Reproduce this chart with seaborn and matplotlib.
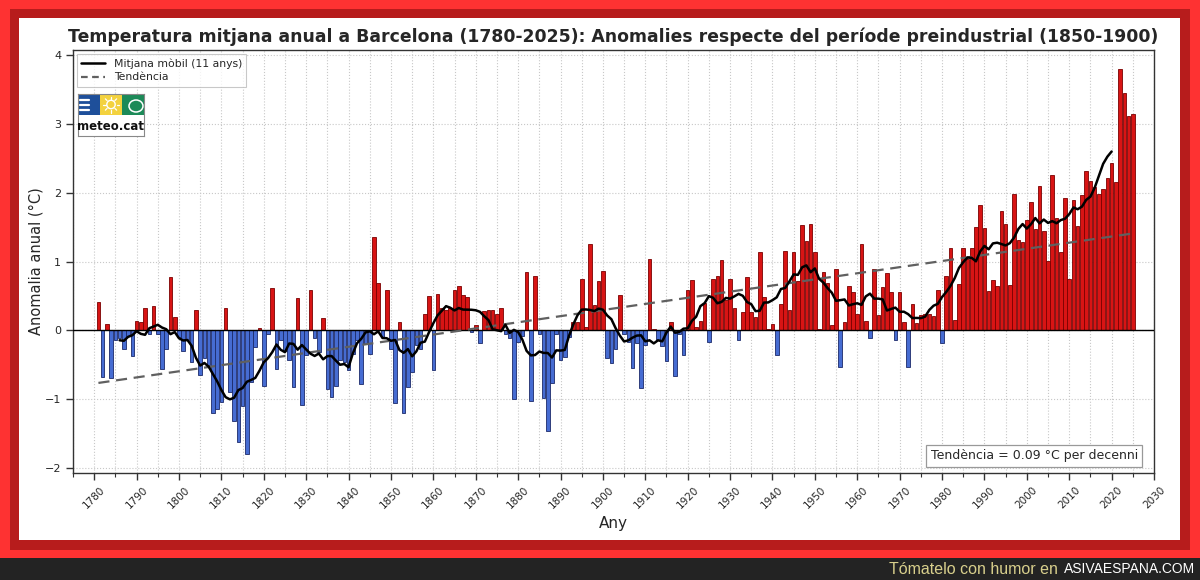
import numpy as np
import pandas as pd
import matplotlib
matplotlib.use("Agg")
import matplotlib.pyplot as plt
from matplotlib.patches import Rectangle, Circle, Ellipse
from matplotlib.lines import Line2D
import seaborn as sns

# ---------------- data ----------------
first_year = 1781
anom_1781_1800 = [0.41, -0.68, 0.09, -0.69, -0.15, -0.12, -0.28, -0.08, -0.38, 0.14,
                  0.12, 0.33, -0.05, 0.35, -0.05, -0.57, -0.27, 0.77, 0.19, -0.10]
anom_1801_1820 = [-0.30, -0.15, -0.46, 0.29, -0.65, -0.40, -0.50, -1.20, -1.15, -1.05,
                  0.32, -0.90, -1.32, -1.63, -1.10, -1.80, -0.75, -0.25, 0.03, -0.82]
anom_1821_1840 = [-0.05, 0.61, -0.57, -0.15, -0.30, -0.44, -0.83, 0.47, -1.09, -0.36,
                  0.58, -0.12, -0.32, 0.18, -0.86, -0.97, -0.81, -0.44, -0.46, -0.58]
anom_1841_1860 = [-0.34, -0.15, -0.79, -0.20, -0.35, 1.35, 0.68, -0.10, 0.58, -0.27,
                  -1.06, 0.12, -1.21, -0.83, -0.61, -0.22, -0.27, 0.24, 0.50, -0.58]
anom_1861_1880 = [0.53, 0.32, 0.30, 0.32, 0.58, 0.65, 0.51, 0.48, -0.02, 0.07,
                  -0.19, 0.28, 0.30, 0.29, 0.24, 0.33, -0.05, -0.11, -1.00, -0.17]
anom_1881_1900 = [-0.08, 0.84, -1.03, 0.79, -0.05, -0.99, -1.47, -0.77, -0.05, -0.44,
                  -0.39, -0.10, 0.12, 0.12, 0.75, 0.05, 1.25, 0.36, 0.71, 0.86]
anom_1901_1920 = [-0.41, -0.48, -0.27, 0.51, -0.05, -0.17, -0.55, -0.19, -0.84, -0.22,
                  1.04, 0.02, -0.15, -0.23, -0.45, 0.12, -0.67, -0.05, -0.36, 0.58]
anom_1921_1940 = [0.73, 0.05, 0.13, 0.39, -0.17, 0.74, 0.79, 1.02, 0.44, 0.75,
                  0.32, -0.15, 0.27, 0.77, 0.27, 0.19, 1.14, 0.49, 0.02, 0.09]
anom_1941_1960 = [-0.36, 0.38, 1.16, 0.29, 1.14, 0.72, 1.53, 1.30, 1.54, 1.14,
                  0.02, 0.85, 0.69, 0.07, 0.89, -0.53, 0.12, 0.65, 0.56, 0.24]
anom_1961_1980 = [1.25, 0.13, -0.11, 0.89, 0.22, 0.63, 0.83, 0.56, -0.15, 0.56,
                  0.12, -0.53, 0.38, 0.10, 0.22, 0.24, 0.24, 0.20, 0.58, -0.18]
anom_1981_2000 = [0.79, 1.20, 0.15, 0.67, 1.20, 1.04, 1.20, 1.50, 1.83, 1.49,
                  0.57, 0.73, 0.65, 1.74, 1.54, 0.66, 1.99, 1.31, 1.29, 1.60]
anom_2001_2025 = [1.86, 1.47, 2.10, 1.44, 1.01, 2.26, 1.63, 1.14, 1.92, 0.75,
                  1.89, 1.52, 1.97, 2.32, 2.17, 2.08, 1.98, 2.05, 2.22, 2.44,
                  2.16, 3.80, 3.45, 3.12, 3.15]

anomalies = (anom_1781_1800 + anom_1801_1820 + anom_1821_1840 + anom_1841_1860 +
             anom_1861_1880 + anom_1881_1900 + anom_1901_1920 + anom_1921_1940 +
             anom_1941_1960 + anom_1961_1980 + anom_1981_2000 + anom_2001_2025)
years = list(range(first_year, first_year + len(anomalies)))

title_text = ("Temperatura mitjana anual a Barcelona (1780-2025): "
              "Anomalies respecte del període preindustrial (1850-1900)")
legend_labels = ["Mitjana mòbil (11 anys)", "Tendència"]
trend_label = "Tendència = 0.09 °C per decenni"
xlabel_text = "Any"
ylabel_text = "Anomalia anual (°C)"
xtick_values = list(range(1780, 2031, 10))
ytick_values = [-2, -1, 0, 1, 2, 3, 4]

df = pd.DataFrame({"year": years, "anom": anomalies})
df["rolling"] = df["anom"].rolling(11, center=True).mean()
coef = np.polyfit(df["year"], df["anom"], 1)
df["trend"] = np.polyval(coef, df["year"])

# ---------------- figure ----------------
sns.set_theme(style="ticks")
plt.rcParams["font.family"] = ["DejaVu Sans"]

W, H = 1200, 580
fig = plt.figure(figsize=(12, 5.8), dpi=100)
fig.patch.set_facecolor("#fe3232")

def px_rect(x0, y0, x1, y1, color):
    r = Rectangle((x0 / W, 1 - y1 / H), (x1 - x0) / W, (y1 - y0) / H,
                  transform=fig.transFigure, facecolor=color, edgecolor="none",
                  zorder=-10)
    fig.patches.append(r)

px_rect(10, 9, 1190, 550, "#b71c1c")
px_rect(19, 18, 1180, 540, "white")
px_rect(0, 558, 1200, 580, "#232323")

fig.text(1195 / W, 1 - 569 / H, "ASIVAESPANA.COM", color="white",
         fontsize=10, family=["Liberation Sans", "DejaVu Sans"],
         ha="right", va="center")
fig.text(1058 / W, 1 - 569 / H, "Tómatelo con humor en", color="#d8cf8c",
         fontsize=11.5, family=["Liberation Sans", "DejaVu Sans"],
         ha="right", va="center")

ax = fig.add_axes([73 / W, 1 - 473 / H, (1154 - 73) / W, (473 - 50) / H])
ax.set_facecolor("white")

pos = df[df["anom"] >= 0]
neg = df[df["anom"] < 0]
sns.barplot(data=pos, x="year", y="anom", native_scale=True, color="#d81414",
            edgecolor="#7a0000", linewidth=0.6, width=0.85, saturation=1,
            errorbar=None, ax=ax, zorder=2)
sns.barplot(data=neg, x="year", y="anom", native_scale=True, color="#466cd2",
            edgecolor="#1b2a6a", linewidth=0.6, width=0.85, saturation=1,
            errorbar=None, ax=ax, zorder=2)

ax.axhline(0, color="black", lw=1.0, zorder=3)

sns.lineplot(data=df, x="year", y="trend", color="#606060", lw=1.6,
             linestyle=(0, (5, 3)), ax=ax, zorder=4)
sns.lineplot(data=df.dropna(subset=["rolling"]), x="year", y="rolling",
             color="black", lw=1.8, ax=ax, zorder=5)

ax.set_xlim(1776, 2030)
ax.set_ylim(-2.08, 4.08)
ax.set_xticks(xtick_values)
ax.set_xticks(list(range(1775, 2031, 5)), minor=True)
ax.set_yticks(ytick_values)
ax.set_xticklabels([str(v) for v in xtick_values], rotation=45, ha="center",
                   fontsize=7.5)
ax.tick_params(axis="y", labelsize=8)
ax.tick_params(axis="both", which="major", length=5, width=1, color="#333333")
ax.tick_params(axis="x", which="minor", length=3, width=0.8, color="#333333")
ax.grid(True, which="both", axis="x", linestyle=":", color="#c8c8c8", lw=0.8)
ax.grid(True, which="major", axis="y", linestyle=":", color="#c8c8c8", lw=0.8)
ax.set_axisbelow(True)
for s in ax.spines.values():
    s.set_visible(True)
    s.set_color("#333333")
    s.set_linewidth(1.0)

ax.set_xlabel(xlabel_text, fontsize=11, labelpad=4)
ax.set_ylabel(ylabel_text, fontsize=10.5, labelpad=1)
ax.set_title(title_text, fontsize=12.4, fontweight="bold", pad=6)

handles = [Line2D([0], [0], color="black", lw=1.8),
           Line2D([0], [0], color="#606060", lw=1.6, linestyle=(0, (3, 2)))]
leg = ax.legend(handles, legend_labels, loc="upper left", fontsize=7.8,
                frameon=True, fancybox=False, borderaxespad=0.35,
                handlelength=2.2, borderpad=0.4, labelspacing=0.35)
leg.get_frame().set_edgecolor("#bbbbbb")
leg.get_frame().set_linewidth(0.8)

ax.text(0.985, 0.025, trend_label, transform=ax.transAxes, ha="right",
        va="bottom", fontsize=9, zorder=6,
        bbox=dict(boxstyle="square,pad=0.35", facecolor="white",
                  edgecolor="#999999", lw=0.9))

# meteo.cat logo
lax = fig.add_axes([78 / W, 1 - 136 / H, 66 / W, 42 / H])
lax.set_xlim(0, 66)
lax.set_ylim(0, 42)
lax.set_xticks([])
lax.set_yticks([])
for s in lax.spines.values():
    s.set_color("#888888")
    s.set_linewidth(0.8)
lax.add_patch(Rectangle((0, 21), 22, 21, facecolor="#1e4f9a", edgecolor="none"))
lax.add_patch(Rectangle((22, 21), 22, 21, facecolor="#f3d23e", edgecolor="none"))
lax.add_patch(Rectangle((44, 21), 22, 21, facecolor="#1c8a58", edgecolor="none"))
for yy in (26, 31, 36):
    lax.plot([2, 11], [yy, yy], color="white", lw=1.6)
lax.add_patch(Circle((33, 31.5), 4.2, facecolor="none", edgecolor="white", lw=1.0))
for ang in np.linspace(0, 2 * np.pi, 8, endpoint=False):
    lax.plot([33 + 5.5 * np.cos(ang), 33 + 8 * np.cos(ang)],
             [31.5 + 5.5 * np.sin(ang), 31.5 + 8 * np.sin(ang)], color="white", lw=0.9)
lax.add_patch(Ellipse((58, 30), 14, 12, facecolor="none", edgecolor="white", lw=1.1))
lax.text(33, 10, "meteo.cat", ha="center", va="center", fontsize=8.5,
         fontweight="bold", color="#111111")

fig.savefig("out.png", dpi=100, facecolor=fig.get_facecolor())
